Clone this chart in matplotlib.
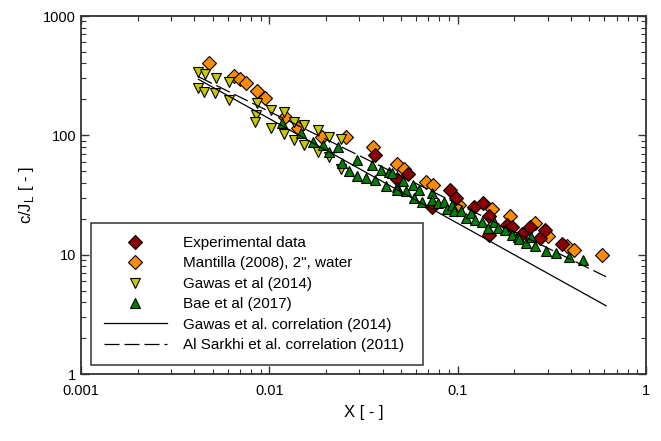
import matplotlib
matplotlib.use("Agg")
import matplotlib.pyplot as plt
from matplotlib.ticker import LogLocator, NullFormatter

plt.rcParams['font.family'] = ['Liberation Sans', 'DejaVu Sans']

# Experimental data
exp_x = [0.0364, 0.0475, 0.0547, 0.0728, 0.0911, 0.0977, 0.1227, 0.137, 0.146,
         0.147, 0.182, 0.194, 0.219, 0.243, 0.272, 0.291, 0.357]
exp_y = [68.4, 43, 47.4, 24.9, 34.8, 29.6, 25.2, 26.9, 14.6,
         21.1, 17.7, 17, 14.9, 17.1, 13.7, 16, 12.4]

# Mantilla (2008), 2", water
man_x = [0.00476, 0.00652, 0.00699, 0.0075, 0.00857, 0.00948, 0.0121, 0.01426,
         0.019, 0.0256, 0.0354, 0.0475, 0.0519, 0.068, 0.0743, 0.102, 0.152,
         0.19, 0.258, 0.303, 0.38, 0.417, 0.582]
man_y = [401, 314, 295, 273, 237, 207, 143, 114.6,
         97.3, 97, 80.2, 57.4, 51.9, 40.8, 38.3, 26, 24,
         21.1, 18.5, 14.3, 11.8, 10.9, 9.9]

# Gawas et al (2014)
gaw_x = [0.0042, 0.00456, 0.00519, 0.00613, 0.0042, 0.00452, 0.00515, 0.0061,
         0.00857, 0.0102, 0.00849, 0.00838, 0.0102, 0.01197, 0.01197, 0.01353,
         0.01353, 0.01528, 0.01528, 0.0182, 0.0182, 0.02075, 0.02075, 0.024, 0.024]
gaw_y = [341, 326, 301, 281, 248, 232, 228, 198,
         185, 163, 148, 130, 114.6, 158, 102.6, 130,
         91.4, 122, 83, 110.7, 72, 97.3, 65.4, 92.5, 51.9]

# Bae et al (2017)
bae_x = [0.01164, 0.01468, 0.01713, 0.01935, 0.0208, 0.0232, 0.0242, 0.0265,
         0.0291, 0.0291, 0.0325, 0.035, 0.0364, 0.0392, 0.0417, 0.0434, 0.0447,
         0.0475, 0.0475, 0.0511, 0.0532, 0.0582, 0.0585, 0.0626, 0.065, 0.0728,
         0.0728, 0.079, 0.0847, 0.0875, 0.093, 0.0955, 0.1038, 0.1104, 0.1178,
         0.1237, 0.1343, 0.1445, 0.155, 0.1645, 0.1786, 0.1937, 0.21, 0.2128,
         0.2307, 0.2445, 0.2577, 0.295, 0.333, 0.392, 0.465]
bae_y = [127.6, 105, 88.3, 83, 72.9, 79.3, 59, 50.2,
         62.1, 45.9, 43.6, 56.4, 42.2, 51.2, 37.6, 49.5, 48,
         37, 34.8, 41.6, 34.3, 38.3, 29.6, 34.8, 27.8, 33,
         28.7, 26.9, 27.8, 24, 26, 23.2, 23.2, 20.1, 22.2,
         19.5, 18.9, 16.6, 18.9, 16.6, 16, 14.6, 14, 13.4,
         12.6, 14.1, 11.8, 10.8, 10.4, 9.6, 9.1]

# correlations (power laws -> straight lines on log-log, end points)
corr_x = [0.0042, 0.614]
gawas_corr = [295, 3.73]
sarkhi_corr = [310, 6.53]

fig = plt.figure(figsize=(6.61, 4.41), dpi=100)
ax = fig.add_axes([81/661, 67/441, 565/661, 358/441])

mk = dict(linestyle='none', markeredgecolor='black', markeredgewidth=0.8)
ax.plot(man_x, man_y, 'D', color='#FF8C00', markersize=6.8,
        label='Mantilla (2008), 2", water', **mk)
ax.plot(exp_x, exp_y, 'D', color='#8B0000', markersize=6.8,
        label='Experimental data', **mk)
ax.plot(gaw_x, gaw_y, 'v', color='#C8C800', markersize=7.8,
        label='Gawas et al (2014)', **mk)
ax.plot(bae_x, bae_y, '^', color='#008000', markersize=7.8,
        label='Bae et al (2017)', **mk)
ax.plot(corr_x, gawas_corr, '-', color='black', lw=0.9,
        label='Gawas et al. correlation (2014)')
ax.plot(corr_x, sarkhi_corr, '--', color='black', lw=0.9, dashes=(12, 4),
        label='Al Sarkhi et al. correlation (2011)')

ax.set_xscale('log')
ax.set_yscale('log')
ax.set_xlim(0.001, 1)
ax.set_ylim(1, 1000)
ax.set_xticks([0.001, 0.01, 0.1, 1])
ax.set_xticklabels(['0.001', '0.01', '0.1', '1'])
ax.set_yticks([1, 10, 100, 1000])
ax.set_yticklabels(['1', '10', '100', '1000'])
ax.xaxis.set_minor_locator(LogLocator(base=10, subs=range(2, 10)))
ax.yaxis.set_minor_locator(LogLocator(base=10, subs=range(2, 10)))
ax.xaxis.set_minor_formatter(NullFormatter())
ax.yaxis.set_minor_formatter(NullFormatter())
ax.tick_params(which='both', direction='in', top=True, right=True,
               labelsize=10.5, color='#333333')
ax.tick_params(which='major', length=6, width=1)
ax.tick_params(which='minor', length=3.5, width=0.8)
ax.tick_params(axis='x', pad=7)
for s in ax.spines.values():
    s.set_color('#333333')
    s.set_linewidth(1.3)

ax.set_xlabel('X [ - ]', fontsize=12, labelpad=5)
ax.set_ylabel(r'c/J$_\mathregular{L}$ [ - ]', fontsize=12, labelpad=5)

handles, labels = ax.get_legend_handles_labels()
order = [1, 0, 2, 3, 4, 5]
leg = ax.legend([handles[i] for i in order], [labels[i] for i in order],
                loc='upper left', bbox_to_anchor=(0.0177, 0.0307, 0.5876, 0.391),
                mode='expand', borderaxespad=0, fontsize=11, numpoints=1,
                handlelength=4.1, handletextpad=1.1, labelspacing=0.42,
                borderpad=0.85, fancybox=False, framealpha=1)
leg.get_frame().set_edgecolor('#333333')
leg.get_frame().set_linewidth(1.1)

fig.savefig('out.png', dpi=100)
